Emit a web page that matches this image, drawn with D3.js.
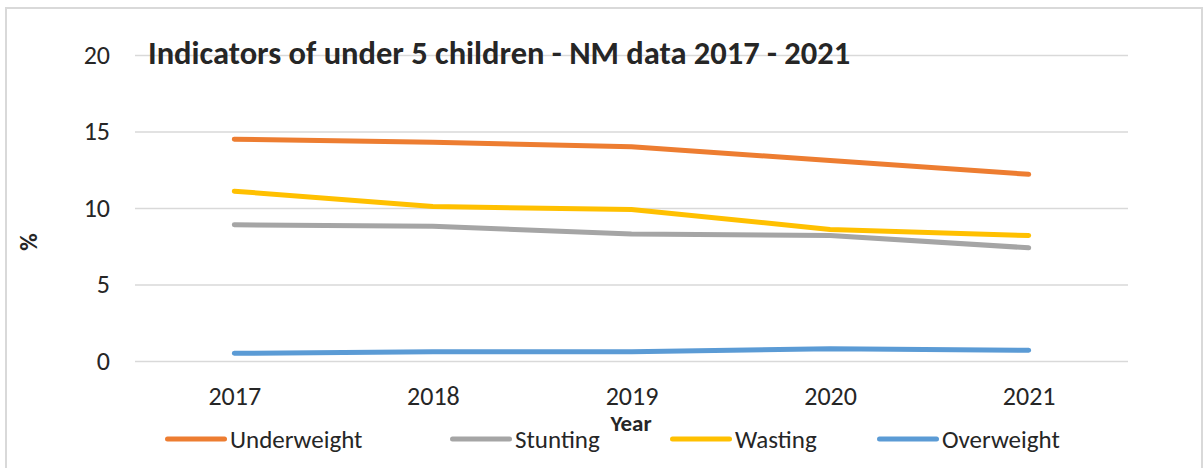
<!DOCTYPE html>
<html>
<head>
<meta charset="utf-8">
<script src="https://cdn.jsdelivr.net/npm/d3@7"></script>
<style>
  body { margin: 0; background: #fff; }
  svg text { font-family: Calibri, Carlito, Lato, sans-serif; fill: #262626; }
</style>
</head>
<body>
<div id="chart"></div>
<script>
// Data

var years = ['2017', '2018', '2019', '2020', '2021'];
var underweight = [14.5, 14.3, 14.0, 13.1, 12.2];
var stunting = [8.9, 8.8, 8.3, 8.2, 7.4];
var wasting = [11.1, 10.1, 9.9, 8.6, 8.2];
var overweight = [0.5, 0.6, 0.6, 0.8, 0.7];
var yTicks = [0, 5, 10, 15, 20];

var seriesNames = ['Underweight', 'Stunting', 'Wasting', 'Overweight'];
var seriesColors = ['#ED7D31', '#A5A5A5', '#FFC000', '#5B9BD5'];
var seriesValues = [underweight, stunting, wasting, overweight];

// Dimensions

var width = 1203;
var height = 468;
var plot = { left: 135, right: 1128, top: 55, bottom: 361 };

var svg = d3.select('#chart')
	.append('svg')
	.attr('width', width)
	.attr('height', height);

// outer frame
svg.append('rect')
	.attr('x', 6)
	.attr('y', 8)
	.attr('width', 1196)
	.attr('height', 480)
	.attr('fill', 'none')
	.attr('stroke', '#d9d9d9')
	.attr('stroke-width', 2);

// Scales

var x = d3.scalePoint()
	.domain(years)
	.range([plot.left, plot.right])
	.padding(0.5);

var y = d3.scaleLinear()
	.domain([0, 20])
	.range([plot.bottom, plot.top]);

// Gridlines + y labels

var yAxis = svg.append('g')
	.attr('transform', 'translate(' + plot.left + ',0)')
	.call(d3.axisLeft(y).tickValues(yTicks).tickSize(-(plot.right - plot.left)).tickPadding(25));

yAxis.select('.domain').remove();
yAxis.selectAll('.tick line')
	.attr('stroke', '#d9d9d9')
	.attr('stroke-width', 1.5);
yAxis.selectAll('.tick text')
	.style('font-size', '26px')
	.attr('fill', '#262626');

// x labels

var xAxis = svg.append('g')
	.attr('transform', 'translate(0,' + plot.bottom + ')')
	.call(d3.axisBottom(x).tickSize(0).tickPadding(26));

xAxis.select('.domain').remove();
xAxis.selectAll('.tick text')
	.style('font-size', '26px')
	.attr('fill', '#262626');

// Title

svg.append('text')
	.attr('x', 148)
	.attr('y', 64)
	.style('font-size', '32.5px')
	.style('font-weight', 'bold')
	.attr('fill', '#000')
	.text('Indicators of under 5 children - NM data 2017 - 2021');

// Axis titles

svg.append('text')
	.attr('transform', 'translate(37,242) rotate(-90)')
	.attr('text-anchor', 'middle')
	.style('font-size', '24px')
	.style('font-weight', 'bold')
	.attr('fill', '#000')
	.text('%');

svg.append('text')
	.attr('x', 631)
	.attr('y', 431)
	.attr('text-anchor', 'middle')
	.style('font-size', '23px')
	.style('font-weight', 'bold')
	.attr('fill', '#000')
	.text('Year');

// Lines

var line = d3.line()
	.x(function(d, i) { return x(years[i]); })
	.y(function(d) { return y(d); });

svg.selectAll('.series')
	.data(seriesValues)
	.enter()
	.append('path')
	.attr('class', 'series')
	.attr('d', line)
	.attr('fill', 'none')
	.attr('stroke', function(d, i) { return seriesColors[i]; })
	.attr('stroke-width', 5)
	.attr('stroke-linecap', 'round')
	.attr('stroke-linejoin', 'round');

// Legend

var legendX = [165, 450, 670, 877];
var legendY = 439;

var legend = svg.selectAll('.legend-item')
	.data(seriesNames)
	.enter()
	.append('g')
	.attr('class', 'legend-item')
	.attr('transform', function(d, i) { return 'translate(' + legendX[i] + ',' + legendY + ')'; });

legend.append('line')
	.attr('x1', 2.5)
	.attr('x2', 59.5)
	.attr('stroke', function(d, i) { return seriesColors[i]; })
	.attr('stroke-width', 5)
	.attr('stroke-linecap', 'round');

legend.append('text')
	.attr('x', 65)
	.attr('dy', '0.35em')
	.style('font-size', '25px')
	.attr('fill', '#262626')
	.text(function(d) { return d; });
</script>
</body>
</html>
